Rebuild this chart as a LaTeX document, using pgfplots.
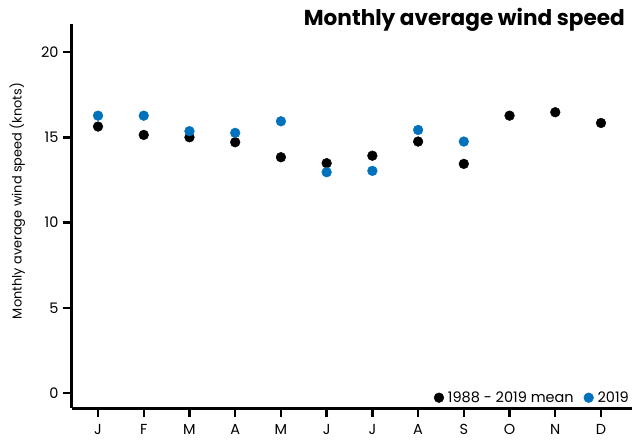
\documentclass[border=0pt]{standalone}
\usepackage{pgfplots}
\pgfplotsset{compat=1.18}
\usepackage{fontspec}
\setmainfont{Poppins}
\definecolor{myblue}{HTML}{0072BC}
\pgfplotstableread{
x mean y2019
0 15.64 16.28
1 15.15 16.28
2 15.01 15.37
3 14.72 15.27
4 13.84 15.95
5 13.49 12.96
6 13.93 13.04
7 14.76 15.44
8 13.45 14.76
9 16.28 nan
10 16.48 nan
11 15.85 nan
}\datatable
\begin{document}
\begin{tikzpicture}
\begin{axis}[
  at={(0pt,0pt)}, anchor=south west,
  scale only axis, width=560pt, height=384pt,
  xmin=-0.569, xmax=11.678, ymin=-0.88, ymax=21.66,
  axis x line*=bottom, axis y line*=left,
  axis line style={line width=3pt, black},
  xtick={0,...,11}, xticklabels={J,F,M,A,M,J,J,A,S,O,N,D},
  ytick={0,5,10,15,20},
  tick align=outside, major tick length=9pt,
  tick style={line width=2.4pt, black},
  /pgf/number format/assume math mode=true,
  tick label style={font=\fontsize{14.5}{16}\selectfont},
  xticklabel style={inner sep=0pt, yshift=-7pt},
  yticklabel style={xshift=-1pt},
  ylabel={Monthly average wind speed (knots)},
  ylabel style={font=\fontsize{12.9}{14}\selectfont, yshift=9pt, xshift=15pt},
  clip=false,
  legend columns=-1,
  legend style={at={(1,0)}, anchor=south east, draw=none, fill=none,
    font=\fontsize{14.5}{16}\selectfont, inner sep=0pt, yshift=2pt, xshift=-1pt,
    /tikz/every odd column/.append style={column sep=2pt},
    /tikz/every even column/.append style={column sep=8pt}},
  legend image code/.code={\draw[#1] plot coordinates {(0pt,0pt)};},
]
\addplot[only marks, mark=*, mark size=4.9pt, black, mark options={draw=none, fill=black}] table[x=x, y=mean] {\datatable};
\addlegendentry{1988 - 2019 mean}
\addplot[only marks, mark=*, mark size=4.9pt, myblue, mark options={draw=none, fill=myblue}] table[x=x, y=y2019] {\datatable};
\addlegendentry{2019}
\node[anchor=base east, font=\fontsize{21.6}{26}\selectfont\bfseries, inner sep=0pt] at ([xshift=-7pt, yshift=-1.7pt]rel axis cs:1,1) {Monthly average wind speed};
\end{axis}
\pgfresetboundingbox
\path (-72pt,-34pt) rectangle (560pt,408pt);
\end{tikzpicture}
\end{document}
